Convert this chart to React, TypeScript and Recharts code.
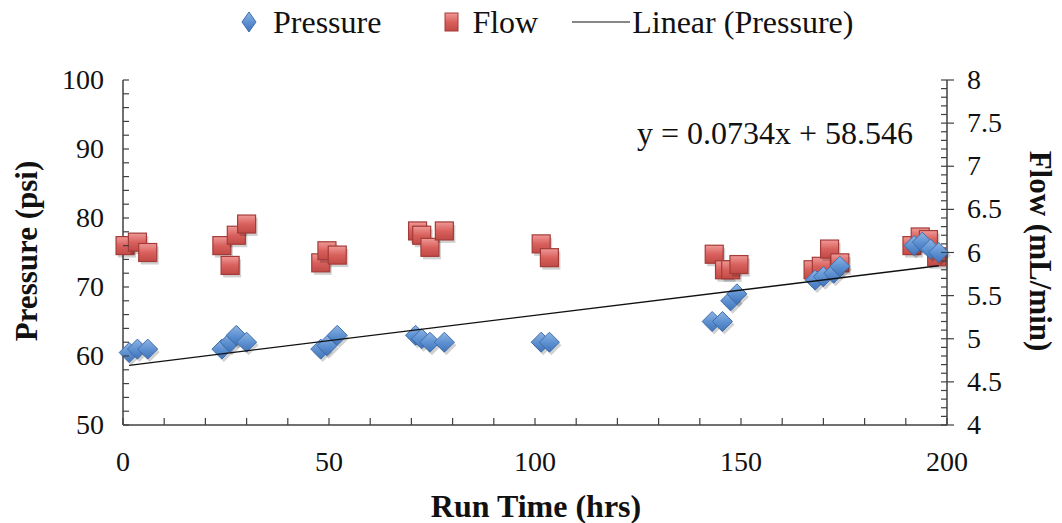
import { ScatterChart, Scatter, XAxis, YAxis, Legend } from 'recharts';

// Pressure readings (psi) vs run time (hrs)
const pressureHrs = [1.5, 3.5, 6, 24, 26, 27.5, 30, 48, 49.5, 52, 71, 72.5, 74.5, 78, 101.5, 103.5, 143, 145.5, 147.5, 149, 168, 170, 172.5, 174, 192, 194, 196, 198];
const pressurePsi = [60.5, 61, 61, 61, 62, 63, 62, 61, 61.5, 63, 63, 62.5, 62, 62, 62, 62, 65, 65, 68, 69, 71, 71.5, 72, 73, 76, 76.5, 75.5, 75];

// Flow readings (mL/min) vs run time (hrs)
const flowHrs = [0.5, 3.5, 6, 24, 26, 27.5, 30, 48, 49.5, 52, 71.5, 72.5, 74.5, 78, 101.5, 103.5, 143.5, 146, 147.5, 149.5, 167.5, 169.5, 171.5, 174, 191.5, 193.5, 195.5, 197.5];
const flowRate = [6.08, 6.12, 6.0, 6.08, 5.85, 6.2, 6.33, 5.88, 6.02, 5.97, 6.25, 6.2, 6.06, 6.25, 6.1, 5.94, 5.98, 5.8, 5.8, 5.86, 5.8, 5.84, 6.04, 5.88, 6.08, 6.18, 6.15, 5.95];

// Linear trendline for pressure
const slope = 0.0734;
const intercept = 58.546;

// Axis ticks (major ones get labels)
const xTicks = [0, 10, 20, 30, 40, 50, 60, 70, 80, 90, 100, 110, 120, 130, 140, 150, 160, 170, 180, 190, 200];
const xLabels = [0, 50, 100, 150, 200];
const pTicks = [50, 52, 54, 56, 58, 60, 62, 64, 66, 68, 70, 72, 74, 76, 78, 80, 82, 84, 86, 88, 90, 92, 94, 96, 98, 100];
const pLabels = [50, 60, 70, 80, 90, 100];
const fTicks = Array.from({ length: 41 }, (_, i) => Math.round((4 + i * 0.1) * 10) / 10);
const fLabels = [4, 4.5, 5, 5.5, 6, 6.5, 7, 7.5, 8];

const pressureData = pressureHrs.map((h, i) => ({ hrs: h, psi: pressurePsi[i] }));
const flowData = flowHrs.map((h, i) => ({ hrs: h, flow: flowRate[i] }));
const xMin = Math.min(...pressureHrs);
const xMax = Math.max(...pressureHrs);
const trendData = [xMin, xMax].map((h) => ({ hrs: h, psi: slope * h + intercept }));

const FONT = 'Liberation Serif, Tinos, DejaVu Serif, serif';
const AXIS = '#404040';

const Diamond = (props: any) => {
  const { cx, cy } = props;
  const r = 10;
  return (
    <g>
      <path d={`M${cx + 2},${cy - r + 3} L${cx + r + 2},${cy + 3} L${cx + 2},${cy + r + 3} L${cx - r + 2},${cy + 3} Z`} fill="rgba(0,0,0,0.18)" />
      <path d={`M${cx},${cy - r} L${cx + r},${cy} L${cx},${cy + r} L${cx - r},${cy} Z`} fill="url(#gradBlue)" stroke="#3f6fb0" strokeWidth={1} />
    </g>
  );
};

const Square = (props: any) => {
  const { cx, cy } = props;
  const s = 9;
  return (
    <g>
      <rect x={cx - s + 2} y={cy - s + 3} width={s * 2} height={s * 2} fill="rgba(0,0,0,0.18)" />
      <rect x={cx - s} y={cy - s} width={s * 2} height={s * 2} fill="url(#gradRed)" stroke="#a33b38" strokeWidth={1.2} />
    </g>
  );
};

const NoDot = () => <g />;

const LeftTick = (props: any) => {
  const { x, y, payload } = props;
  const v = payload.value;
  return (
    <g>
      <line x1={x} x2={x + 6} y1={y} y2={y} stroke={AXIS} strokeWidth={1.2} />
      {pLabels.includes(v) && (
        <text x={x - 19} y={y} dy={9} textAnchor="end" style={{ fontFamily: FONT }} fontSize={28} fill="#111">
          {v}
        </text>
      )}
    </g>
  );
};

const RightTick = (props: any) => {
  const { x, y, payload } = props;
  const v = payload.value;
  const major = fLabels.includes(v);
  return (
    <g>
      <line x1={x - 6} x2={major ? x + 7 : x} y1={y} y2={y} stroke={AXIS} strokeWidth={1.2} />
      {major && (
        <text x={x + 20} y={y} dy={9} textAnchor="start" style={{ fontFamily: FONT }} fontSize={28} fill="#111">
          {v}
        </text>
      )}
    </g>
  );
};

const BottomTick = (props: any) => {
  const { x, y, payload } = props;
  const v = payload.value;
  return (
    <g>
      <line x1={x} x2={x} y1={y} y2={y - 7} stroke={AXIS} strokeWidth={1.2} />
      {xLabels.includes(v) && (
        <text x={x} y={y + 46} textAnchor="middle" style={{ fontFamily: FONT }} fontSize={28} fill="#111">
          {v}
        </text>
      )}
    </g>
  );
};

const LegendContent = () => (
  <div style={{ display: 'flex', justifyContent: 'flex-start', alignItems: 'center', paddingLeft: 241, fontFamily: FONT, fontSize: 32, color: '#111', height: 44 }}>
    <svg width={16} height={22} style={{ marginRight: 16 }}>
      <path d="M8,1 L15,11 L8,21 L1,11 Z" fill="url(#gradBlue)" stroke="#3f6fb0" />
    </svg>
    <span>Pressure</span>
    <svg width={15} height={20} style={{ marginLeft: 63, marginRight: 13 }}>
      <rect x={1} y={1} width={13} height={18} fill="url(#gradRed)" stroke="#a33b38" />
    </svg>
    <span>Flow</span>
    <svg width={58} height={20} style={{ marginLeft: 34, marginRight: 2 }}>
      <line x1={0} x2={58} y1={10} y2={10} stroke="#111" strokeWidth={1.2} />
    </svg>
    <span>Linear (Pressure)</span>
  </div>
);

export default function App() {
  return (
    <div style={{ position: 'absolute', left: 0, top: 0, width: 1062, height: 523, background: '#fff' }}>
      <svg width={0} height={0} style={{ position: 'absolute' }}>
        <defs>
          <linearGradient id="gradBlue" x1="0" y1="0" x2="0" y2="1">
            <stop offset="0%" stopColor="#8fb4e3" />
            <stop offset="55%" stopColor="#5b8fd0" />
            <stop offset="100%" stopColor="#4274b8" />
          </linearGradient>
          <linearGradient id="gradRed" x1="0" y1="0" x2="0" y2="1">
            <stop offset="0%" stopColor="#ef9a98" />
            <stop offset="50%" stopColor="#d9615d" />
            <stop offset="100%" stopColor="#c24a46" />
          </linearGradient>
        </defs>
      </svg>
      <ScatterChart width={1062} height={523} margin={{ top: 36, right: 50, bottom: 48, left: 60 }}>
        <Legend verticalAlign="top" height={44} content={<LegendContent />} wrapperStyle={{ left: 0, width: 1062, top: 0 }} />
        <XAxis
          type="number"
          dataKey="hrs"
          domain={[0, 200]}
          ticks={xTicks}
          interval={0}
          height={50}
          tickSize={0}
          tickMargin={0}
          tick={<BottomTick />}
          stroke={AXIS}
          strokeWidth={1.5}
          label={{
            content: () => (
              <text x={536} y={517} textAnchor="middle" style={{ fontFamily: FONT }} fontSize={32} fontWeight="bold" fill="#111">
                Run Time (hrs)
              </text>
            ),
          }}
        />
        <YAxis
          yAxisId="p"
          type="number"
          dataKey="psi"
          domain={[50, 100]}
          ticks={pTicks}
          interval={0}
          width={63}
          tickSize={0}
          tickMargin={0}
          tick={<LeftTick />}
          stroke={AXIS}
          strokeWidth={1.5}
          label={{
            content: () => (
              <text x={0} y={0} transform="translate(37,251) rotate(-90)" textAnchor="middle" style={{ fontFamily: FONT }} fontSize={31} fontWeight="bold" fill="#111">
                Pressure (psi)
              </text>
            ),
          }}
        />
        <YAxis
          yAxisId="f"
          orientation="right"
          type="number"
          dataKey="flow"
          domain={[4, 8]}
          ticks={fTicks}
          interval={0}
          width={65}
          tickSize={0}
          tickMargin={0}
          tick={<RightTick />}
          stroke={AXIS}
          strokeWidth={1.5}
          label={{
            content: () => (
              <text x={0} y={0} transform="translate(1030,251) rotate(90)" textAnchor="middle" style={{ fontFamily: FONT }} fontSize={31} fontWeight="bold" fill="#111">
                Flow (mL/min)
              </text>
            ),
          }}
        />
        <Scatter name="Flow" yAxisId="f" data={flowData} dataKey="flow" shape={<Square />} isAnimationActive={false} />
        <Scatter name="Pressure" yAxisId="p" data={pressureData} dataKey="psi" shape={<Diamond />} isAnimationActive={false} />
        <Scatter
          name="Linear (Pressure)"
          yAxisId="p"
          data={trendData}
          dataKey="psi"
          line={{ stroke: '#111', strokeWidth: 1.3 }}
          lineType="joint"
          shape={<NoDot />}
          isAnimationActive={false}
        />
        <text x={637} y={144} style={{ fontFamily: FONT }} fontSize={32} fill="#111">
          y = 0.0734x + 58.546
        </text>
      </ScatterChart>
    </div>
  );
}
